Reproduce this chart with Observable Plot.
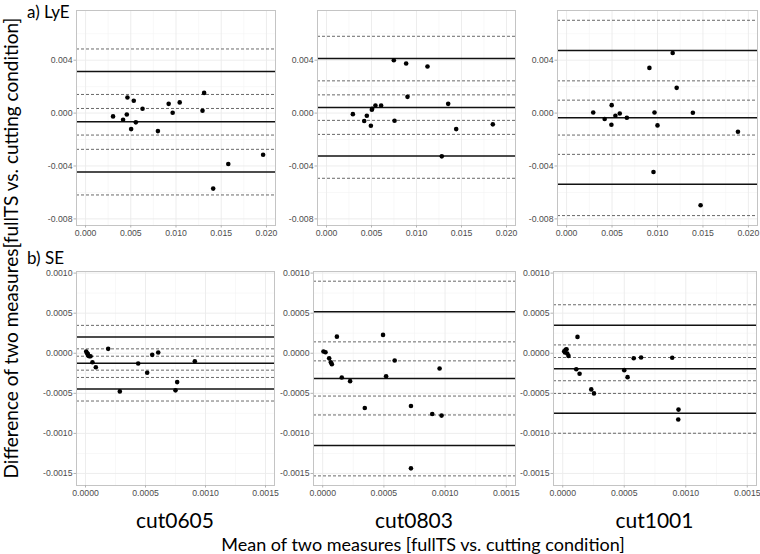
<!DOCTYPE html>
<html><head><meta charset="utf-8">
<script src="https://cdn.jsdelivr.net/npm/d3@7"></script>
<script src="https://cdn.jsdelivr.net/npm/@observablehq/plot@0.6"></script>
<style>
body{margin:0;background:#fff;}
#root{position:relative;width:760px;height:554px;overflow:hidden;}
.panel{position:absolute;}
#overlay{position:absolute;left:0;top:0;}
</style></head><body><div id="root"></div>
<script>
// ---- labels ----
const conditions = ["cut0605", "cut0803", "cut1001"];
const rowTitles = ["a) LyE", "b) SE"];
const xTitle = "Mean of two measures [fullTS vs. cutting condition]";
const yTitle = "Difference of two measures[fullTS vs. cutting condition]";

// ---- tick values ----
const lyeXTicks = [0, 0.005, 0.010, 0.015, 0.020];
const lyeXMinor = [0.0025, 0.0075, 0.0125, 0.0175];
const lyeYTicks = [-0.008, -0.004, 0, 0.004];
const lyeYMinor = [-0.006, -0.002, 0.002, 0.006];
const seXTicks = [0, 0.0005, 0.0010, 0.0015];
const seXMinor = [0.00025, 0.00075, 0.00125];
const seYTicks = [-0.0015, -0.0010, -0.0005, 0, 0.0005, 0.0010];
const seYMinor = [-0.00125, -0.00075, -0.00025, 0.00025, 0.00075];

// ---- a) LyE ----
const lyeX_cut0605 = [0.00304,0.00415,0.00456,0.00463,0.00504,0.00533,0.00556,0.0063,0.008,0.00919,0.00963,0.01041,0.01293,0.01311,0.01578,0.01411,0.01963];
const lyeY_cut0605 = [-0.00025,-0.0005,-0.0001,0.00118,-0.00121,0.00093,-0.0007,0.00033,-0.00136,0.0007,0.00003,0.00081,0.00018,0.00153,-0.00385,-0.00571,-0.00315];
const lyeLoA_cut0605 = [0.00315, -0.00066, -0.00445];
const lyeCI_cut0605 = [0.00485, 0.00141, 0.00035, -0.00166, -0.00274, -0.00619];

const lyeX_cut0803 = [0.00293,0.00419,0.00448,0.00493,0.00504,0.00507,0.00544,0.00607,0.00748,0.00756,0.00885,0.009,0.01122,0.01281,0.01352,0.01441,0.01848];
const lyeY_cut0803 = [-0.00008,-0.0006,-0.0002,-0.00096,0.00025,0.00033,0.00058,0.00058,0.004,-0.00058,0.00375,0.00123,0.00352,-0.00327,0.0007,-0.00121,-0.00085];
const lyeLoA_cut0803 = [0.00413, 0.00043, -0.00325];
const lyeCI_cut0803 = [0.00581, 0.00244, 0.00138, -0.00055, -0.00161, -0.00493];

const lyeX_cut1001 = [0.00293,0.00419,0.00496,0.00493,0.00537,0.00585,0.00663,0.00911,0.00967,0.00956,0.01,0.01167,0.01211,0.01389,0.01474,0.01885];
const lyeY_cut1001 = [0.00005,-0.00045,0.0006,-0.00088,-0.0002,-0.00003,-0.00035,0.00342,0.00005,-0.00445,-0.00093,0.00455,0.00191,0.00003,-0.00697,-0.00141];
const lyeLoA_cut1001 = [0.00473, -0.00035, -0.00538];
const lyeCI_cut1001 = [0.00702, 0.00244, 0.00098, -0.00166, -0.00312, -0.00775];

// ---- b) SE ----
const seX_cut0605 = [0.0000058,0.000014,0.000019,0.000022,0.000031,0.000042,0.000058,0.000086,0.000189,0.000286,0.000439,0.000514,0.000556,0.000606,0.00075,0.000764,0.000911];
const seY_cut0605 = [0.000021,0.0,-0.000008,-0.000029,-0.000037,-0.000037,-0.000112,-0.000174,0.000055,-0.000476,-0.000128,-0.000244,-0.00002,0.0000087,-0.000463,-0.00036,-0.0001];
const seLoA_cut0605 = [0.000204, -0.000124, -0.000447];
const seCI_cut0605 = [0.000348, 0.000055, -0.000037, -0.000211, -0.000302, -0.000596];

const seX_cut0803 = [0.0000065,0.000023,0.000053,0.000067,0.000075,0.000116,0.000156,0.000224,0.000344,0.000493,0.000518,0.000588,0.000721,0.000721,0.000895,0.000955,0.000971];
const seY_cut0803 = [0.000021,0.000012,-0.000062,-0.000112,-0.000137,0.000207,-0.000302,-0.000348,-0.000683,0.000229,-0.000286,-0.000091,-0.000658,-0.001436,-0.000758,-0.00019,-0.000778];
const seLoA_cut0803 = [0.000518, -0.000314, -0.00115];
const seCI_cut0803 = [0.000899, 0.000142, -0.000095, -0.000534, -0.00077, -0.00153];

const seX_cut1001 = [0.000012,0.000023,0.000031,0.000018,0.000037,0.000047,0.00012,0.00011,0.000137,0.000232,0.000254,0.0005,0.000527,0.000577,0.000637,0.00089,0.000941,0.000939];
const seY_cut1001 = [0.000025,0.000042,0.00005,0.0000087,-0.0000037,-0.000033,0.000204,-0.000199,-0.000256,-0.000451,-0.000501,-0.000211,-0.000298,-0.000062,-0.000053,-0.000057,-0.000703,-0.000827];
const seLoA_cut1001 = [0.000348, -0.000194, -0.000749];
const seCI_cut1001 = [0.000605, 0.000104, -0.000053, -0.000343, -0.000501, -0.000998];

// ---- layout ----
const fmt3 = d => d.toFixed(3);
const fmt4 = d => d.toFixed(4);
const lyeRow = {top: 10, bottom: 225, xDomain: [-0.001, 0.021], yDomain: [-0.0085, 0.00776],
  xTicks: lyeXTicks, xMinor: lyeXMinor, yTicks: lyeYTicks, yMinor: lyeYMinor, fmt: fmt3};
const seRow = {top: 271, bottom: 485, xDomain: [-0.000075, 0.001575], yDomain: [-0.00165, 0.00102],
  xTicks: seXTicks, xMinor: seXMinor, yTicks: seYTicks, yMinor: seYMinor, fmt: fmt4};

const panels = [
  {row: lyeRow, left: 76, right: 275, x: lyeX_cut0605, y: lyeY_cut0605, loa: lyeLoA_cut0605, ci: lyeCI_cut0605},
  {row: lyeRow, left: 317, right: 515, x: lyeX_cut0803, y: lyeY_cut0803, loa: lyeLoA_cut0803, ci: lyeCI_cut0803},
  {row: lyeRow, left: 557, right: 757, x: lyeX_cut1001, y: lyeY_cut1001, loa: lyeLoA_cut1001, ci: lyeCI_cut1001},
  {row: seRow, left: 76, right: 274, x: seX_cut0605, y: seY_cut0605, loa: seLoA_cut0605, ci: seCI_cut0605},
  {row: seRow, left: 313, right: 515, x: seX_cut0803, y: seY_cut0803, loa: seLoA_cut0803, ci: seCI_cut0803},
  {row: seRow, left: 553, right: 756, x: seX_cut1001, y: seY_cut1001, loa: seLoA_cut1001, ci: seCI_cut1001}
];

const root = document.getElementById("root");
const ml = 44, mr = 3, mt = 4, mb = 18;

for (const p of panels) {
  const r = p.row;
  const W = p.right - p.left, H = r.bottom - r.top;
  const pts = p.x.map((x, i) => ({mx: x, dy: p.y[i]}));
  const svg = Plot.plot({
    width: W + ml + mr, height: H + mt + mb,
    marginLeft: ml, marginRight: mr, marginTop: mt, marginBottom: mb,
    style: {background: "transparent", fontFamily: "'Liberation Sans', Arial, sans-serif", fontSize: "8.7px", overflow: "visible"},
    x: {domain: r.xDomain, label: null},
    y: {domain: r.yDomain, label: null},
    marks: [
      Plot.ruleX(r.xMinor, {stroke: "#f3f3f3", strokeWidth: 0.6}),
      Plot.ruleY(r.yMinor, {stroke: "#f3f3f3", strokeWidth: 0.6}),
      Plot.ruleX(r.xTicks, {stroke: "#ebebeb", strokeWidth: 0.9}),
      Plot.ruleY(r.yTicks, {stroke: "#ebebeb", strokeWidth: 0.9}),
      Plot.ruleY(p.ci, {stroke: "#444", strokeWidth: 0.8, strokeDasharray: "3,2"}),
      Plot.ruleY(p.loa, {stroke: "#111", strokeWidth: 1.5}),
      Plot.dot(pts, {x: "mx", y: "dy", r: 2.3, fill: "#000", stroke: null}),
      Plot.frame({stroke: "#c4c4c4"}),
      Plot.axisX(r.xTicks, {tickSize: 2.5, tickPadding: 1.5, tickFormat: r.fmt, stroke: "#b3b3b3", fill: "#4d4d4d", label: null}),
      Plot.axisY(r.yTicks, {tickSize: 2.5, tickPadding: 1.5, tickFormat: r.fmt, stroke: "#b3b3b3", fill: "#4d4d4d", label: null})
    ]
  });
  svg.classList.add("panel");
  svg.style.left = (p.left - ml) + "px";
  svg.style.top = (r.top - mt) + "px";
  root.appendChild(svg);
}

// ---- overlay text ----
const ov = d3.select(root).append("svg").attr("id", "overlay").attr("width", 760).attr("height", 554)
  .style("font-family", "Lato, 'Open Sans', sans-serif").style("fill", "#000");
ov.append("text").attr("x", 27).attr("y", 17.5).attr("font-size", 17).text(rowTitles[0]);
ov.append("text").attr("x", 27).attr("y", 264).attr("font-size", 17).text(rowTitles[1]);
const centers = [175, 414, 654.5];
conditions.forEach((c, i) => ov.append("text").attr("x", centers[i]).attr("y", 528)
  .attr("text-anchor", "middle").attr("font-size", 21).text(c));
ov.append("text").attr("x", 423).attr("y", 551).attr("text-anchor", "middle").attr("font-size", 18).text(xTitle);
ov.append("text").attr("transform", "translate(17.5,248) rotate(-90)").attr("text-anchor", "middle")
  .attr("font-size", 19).text(yTitle);
</script></body></html>
